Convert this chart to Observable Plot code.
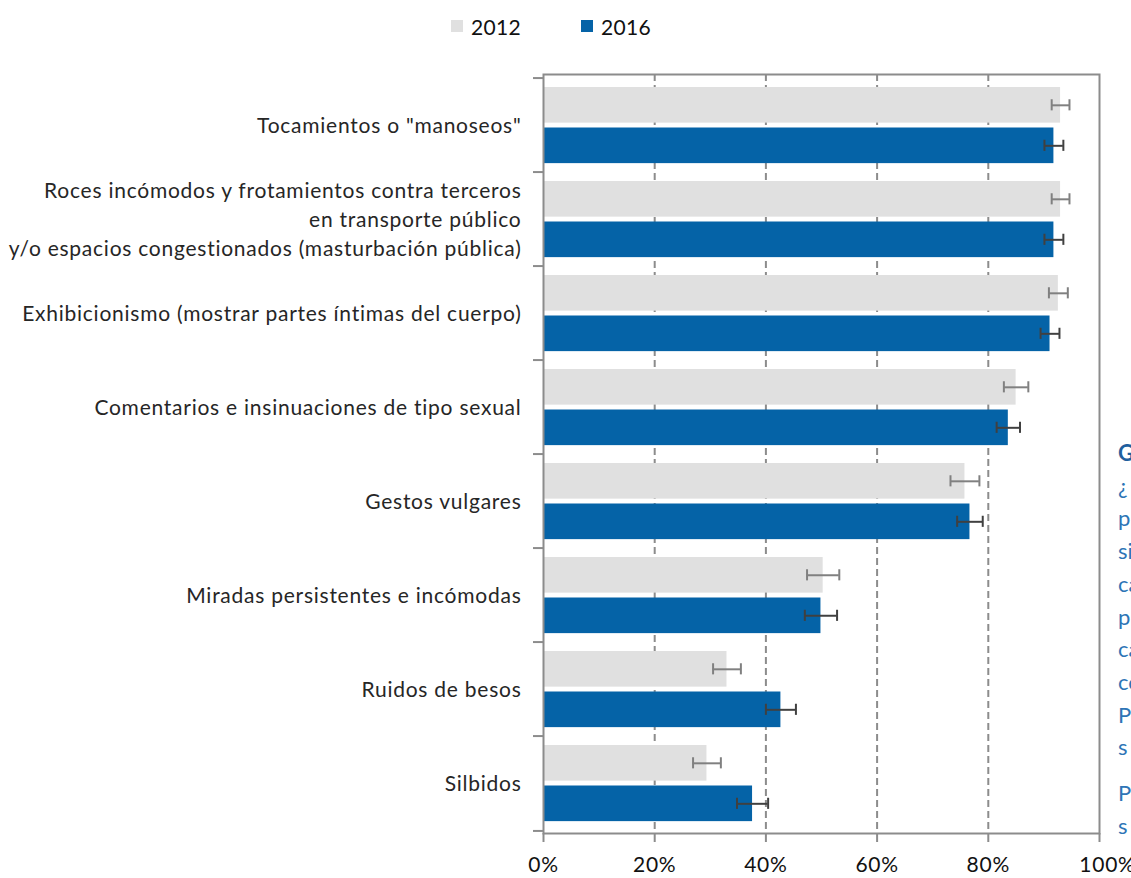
<!DOCTYPE html>
<html>
<head>
<meta charset="utf-8">
<script src="https://cdn.jsdelivr.net/npm/d3@7"></script>
<script src="https://cdn.jsdelivr.net/npm/@observablehq/plot@0.6"></script>
<style>
  html, body { margin: 0; padding: 0; background: #fff; overflow: hidden; }
  #wrap { position: relative; width: 1131px; height: 878px; overflow: hidden; font-family: Lato, "Open Sans", sans-serif; }
  #legend { position: absolute; top: 11px; left: 0; width: 1131px; height: 30px; font-size: 21px; color: #111; letter-spacing: 0.3px; }
  .li { position: absolute; top: 0; display: flex; align-items: center; height: 30px; }
  .sw { width: 12px; height: 12px; display: inline-block; margin-right: 8px; }
  #side { position: absolute; left: 1118px; top: 437px; font-size: 22px; color: #2e75b6; line-height: 32.7px; white-space: pre; }
  #side .t { color: #1f5f9e; font-weight: bold; }
  #side .gap { margin-top: 13px; }
  g[aria-label="text"] text { letter-spacing: 0.75px; }
</style>
</head>
<body>
<div id="wrap">
  <div id="chart"></div>
  <div id="legend"></div>
  <div id="side"></div>
</div>
<script>
const categories = [
  "Tocamientos o \"manoseos\"",
  "Roces incómodos y frotamientos contra terceros\nen transporte público\ny/o espacios congestionados (masturbación pública)",
  "Exhibicionismo (mostrar partes íntimas del cuerpo)",
  "Comentarios e insinuaciones de tipo sexual",
  "Gestos vulgares",
  "Miradas persistentes e incómodas",
  "Ruidos de besos",
  "Silbidos"
];
const series = ["2012", "2016"];
const values2012 = [93.0, 93.0, 92.6, 85.0, 75.8, 50.3, 33.0, 29.4];
const values2016 = [91.8, 91.8, 91.1, 83.6, 76.7, 49.9, 42.7, 37.6];
const err2012 = [1.6, 1.6, 1.7, 2.2, 2.6, 2.9, 2.5, 2.5];
const err2016 = [1.7, 1.7, 1.7, 2.1, 2.3, 2.9, 2.7, 2.8];
const xTicks = [0, 20, 40, 60, 80, 100];
const gridTicks = [20, 40, 60, 80];
const sideText = ["G", "¿", "p", "si", "ca", "p", "ca", "co", "P", "s", "P", "s"];

const colors = {"2012": "#e0e0e0", "2016": "#0563a7"};
const errColors = {"2012": "#808080", "2016": "#404040"};

const rows2012 = categories.map((c, i) => ({cat: c, v: values2012[i], e: err2012[i]}));
const rows2016 = categories.map((c, i) => ({cat: c, v: values2016[i], e: err2016[i]}));

const W = 1131, H = 878;
const mTop = 74, mBottom = 45, mLeft = 543, mRight = 32;
const band = (H - mTop - mBottom) / categories.length;
const barH = 36.5, padTop = 9, gap = 4;
const c12 = padTop + barH / 2;
const c16 = padTop + barH + gap + barH / 2;
const cap = 6;

function errMarks(rows, center, color) {
  return [
    Plot.ruleY(rows, {y: "cat", x1: d => d.v - d.e, x2: d => d.v + d.e, dy: center - band / 2, stroke: color, strokeWidth: 2}),
    Plot.tickX(rows, {y: "cat", x: d => d.v - d.e, insetTop: center - cap, insetBottom: band - center - cap, stroke: color, strokeWidth: 2}),
    Plot.tickX(rows, {y: "cat", x: d => d.v + d.e, insetTop: center - cap, insetBottom: band - center - cap, stroke: color, strokeWidth: 2})
  ];
}

const chart = Plot.plot({
  width: W, height: H,
  marginTop: mTop, marginBottom: mBottom, marginLeft: mLeft, marginRight: mRight,
  style: {fontFamily: "Lato, 'Open Sans', sans-serif", fontSize: "21px", background: "#fff", overflow: "visible"},
  x: {domain: [0, 100], axis: null},
  y: {domain: categories, padding: 0, axis: null},
  marks: [
    Plot.ruleX(gridTicks, {stroke: "#8c8c8c", strokeWidth: 2, strokeDasharray: "7,4"}),
    Plot.barX(rows2012, {y: "cat", x: "v", fill: colors["2012"], insetTop: padTop, insetBottom: band - padTop - barH}),
    Plot.barX(rows2016, {y: "cat", x: "v", fill: colors["2016"], insetTop: padTop + barH + gap, insetBottom: band - padTop - 2 * barH - gap}),
    ...errMarks(rows2012, c12, errColors["2012"]),
    ...errMarks(rows2016, c16, errColors["2016"]),
    Plot.frame({stroke: "#8c8c8c", strokeWidth: 2}),
    Plot.ruleY(categories, {y: d => d, x1: -1.8, x2: 0, dy: -band / 2, stroke: "#8c8c8c", strokeWidth: 2}),
    Plot.ruleY(categories.slice(-1), {y: d => d, x1: -1.8, x2: 0, dy: band / 2, stroke: "#8c8c8c", strokeWidth: 2}),
    Plot.axisX(xTicks, {tickSize: 9, label: null, stroke: "#8c8c8c", strokeWidth: 2, strokeOpacity: 1, text: null}),
    Plot.text(xTicks.slice(0, -1), {x: d => d, text: d => d + "%", frameAnchor: "bottom", lineAnchor: "top", dy: 24, fontSize: 21, fill: "#111"}),
    Plot.text(xTicks.slice(-1), {x: d => d, text: d => d + "%", frameAnchor: "bottom", lineAnchor: "top", dy: 24, dx: 8, fontSize: 21, fill: "#111"}),
    Plot.text(categories, {y: d => d, x: 0, dx: -22, dy: -2, textAnchor: "end", lineHeight: 1.4, fontSize: 21, fill: "#262626"})
  ]
});
document.getElementById("chart").appendChild(chart);

const legend = document.getElementById("legend");
const legendPos = {"2012": 451, "2016": 581};
series.forEach(s => {
  const el = document.createElement("div");
  el.className = "li";
  el.style.left = legendPos[s] + "px";
  const sw = document.createElement("span");
  sw.className = "sw";
  sw.style.background = colors[s];
  el.appendChild(sw);
  el.appendChild(document.createTextNode(s));
  legend.appendChild(el);
});

const side = document.getElementById("side");
sideText.forEach((t, i) => {
  const d = document.createElement("div");
  d.textContent = t;
  if (i === 0) d.className = "t";
  if (i === 10) d.className = "gap";
  side.appendChild(d);
});
</script>
</body>
</html>
